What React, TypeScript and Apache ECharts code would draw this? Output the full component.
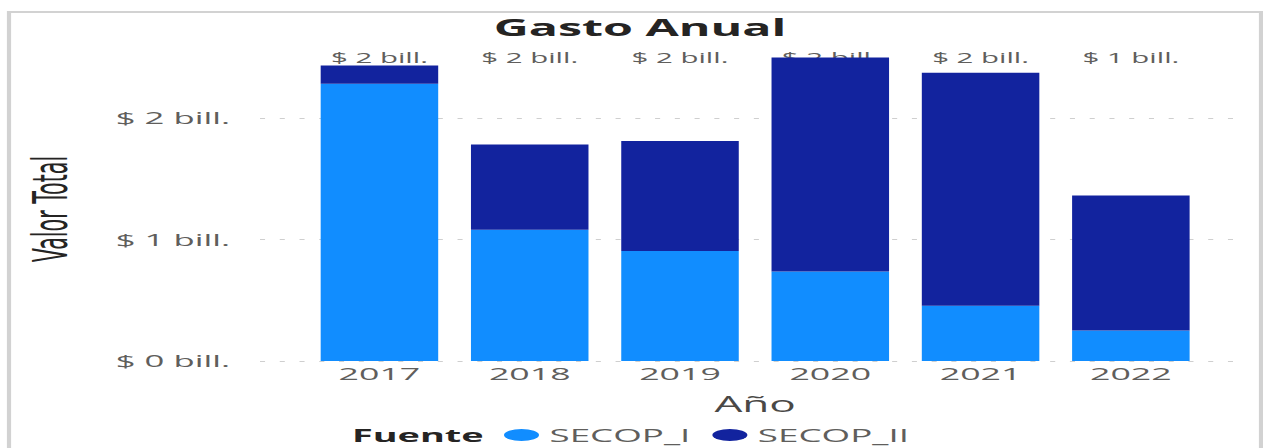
import React, { useEffect, useRef } from "react";
import * as echarts from "echarts";

// ---- data ----
const years = ["2017", "2018", "2019", "2020", "2021", "2022"];
const secopI = [2.28, 1.08, 0.905, 0.735, 0.455, 0.25];
const secopII = [0.15, 0.7, 0.905, 1.76, 1.915, 1.11];
const yMin = 0;
const yMax = 2.5;
const yStep = 1;
const seriesNames = ["SECOP_I", "SECOP_II"];

const totals = years.map((_, i) => secopI[i] + secopII[i]);
const fmtBill = (v: number) => `$ ${Math.round(v)} bill.`;
const totalLabels = totals.map(fmtBill);

// the reference picture is stretched horizontally; draw narrower and scale in X
const W = 601;
const H = 448;
const S = 1263 / W;
const sx = (px: number) => px / S;

const FONT = "'Open Sans', 'Noto Sans', sans-serif";
const GRAY = "#605E5C";
const DARK = "#252423";

export default function App() {
  const ref = useRef<HTMLDivElement>(null);

  useEffect(() => {
    if (!ref.current) return;
    const chart = echarts.init(ref.current, undefined, { renderer: "svg" });
    const y0 = 361;
    const unit = 121.6;
    const top = y0 - (yMax - yMin) * unit;
    const bottom = H - y0;
    const gridColor = "#cfcfcf";

    chart.setOption({
      animation: false,
      textStyle: { fontFamily: FONT },
      title: {
        text: "Gasto Anual",
        left: sx(640),
        textAlign: "center",
        top: 16,
        padding: 0,
        textStyle: { fontFamily: FONT, fontWeight: "bold", fontSize: 23, color: DARK },
      },
      legend: {
        data: seriesNames,
        left: sx(504),
        top: 426,
        padding: 0,
        itemWidth: sx(35),
        itemHeight: 12,
        itemGap: sx(22),
        icon: `path://M0,6a${sx(17.5)},6 0 1,0 ${sx(35)},0a${sx(17.5)},6 0 1,0 ${-sx(35)},0`,
        textStyle: { fontFamily: FONT, fontSize: 17.5, color: GRAY },
      },
      graphic: [
        {
          type: "rect",
          shape: { x: sx(9), y: 12, width: sx(1252), height: 500 },
          style: { fill: "none", stroke: "#d2d2d2", lineWidth: 2 },
          silent: true,
        },
        {
          type: "text",
          x: sx(352),
          y: 435,
          style: {
            text: "Fuente",
            fontFamily: FONT,
            fontWeight: "bold",
            fontSize: 18,
            fill: DARK,
            align: "left",
            verticalAlign: "middle",
          },
        },
        {
          type: "text",
          x: sx(50),
          y: 209,
          rotation: Math.PI / 2,
          style: {
            text: "Valor Total",
            fontFamily: "'Liberation Sans Narrow', 'DejaVu Sans Condensed', sans-serif",
            fontSize: 23,
            fill: DARK,
            align: "center",
            verticalAlign: "middle",
          },
        },
      ],
      grid: [
        { left: sx(260), right: sx(21), top, bottom },
        { left: sx(304.3), right: sx(57), top, bottom },
        { left: sx(304.3), right: sx(57), top: 66, height: 10 },
      ],
      xAxis: [
        { gridIndex: 0, type: "value", show: false },
        {
          gridIndex: 1,
          type: "category",
          data: years,
          axisLine: { show: false },
          axisTick: { show: false },
          axisLabel: { margin: 4, fontSize: 17, color: GRAY, fontFamily: FONT },
          name: "Año",
          nameLocation: "middle",
          nameGap: 32,
          nameTextStyle: { fontSize: 21, color: "#4a4846", fontFamily: FONT },
        },
        {
          gridIndex: 2,
          type: "category",
          position: "top",
          data: totalLabels,
          axisLine: { show: false },
          axisTick: { show: false },
          axisLabel: { margin: 1, fontSize: 14, lineHeight: 15, color: GRAY, fontFamily: FONT },
        },
      ],
      yAxis: [
        {
          gridIndex: 0,
          type: "value",
          min: yMin,
          max: yMax,
          interval: yStep,
          axisLine: { show: false },
          axisTick: { show: false },
          axisLabel: {
            margin: sx(30),
            fontSize: 16.5,
            color: GRAY,
            fontFamily: FONT,
            showMaxLabel: false,
            formatter: (v: number) => fmtBill(v),
          },
          splitLine: {
            show: true,
            showMaxLine: false,
            lineStyle: {
              color: [gridColor, gridColor, gridColor, "rgba(0,0,0,0)"],
              width: 1,
              type: [2.4, 7],
            },
          },
        },
        { gridIndex: 1, type: "value", min: yMin, max: yMax, show: false },
        { gridIndex: 2, type: "value", show: false },
      ],
      series: [
        {
          name: seriesNames[0],
          type: "bar",
          stack: "total",
          xAxisIndex: 1,
          yAxisIndex: 1,
          data: secopI,
          barWidth: "78.2%",
          itemStyle: { color: "#118DFF" },
        },
        {
          name: seriesNames[1],
          type: "bar",
          stack: "total",
          xAxisIndex: 1,
          yAxisIndex: 1,
          data: secopII,
          barWidth: "78.2%",
          itemStyle: { color: "#12239E" },
        },
      ],
    });

    return () => chart.dispose();
  }, []);

  return (
    <div
      ref={ref}
      style={{
        position: "fixed",
        left: 0,
        top: 0,
        width: W + "px",
        height: H + "px",
        transform: `scaleX(${S})`,
        transformOrigin: "0 0",
        background: "#fff",
      }}
    />
  );
}
